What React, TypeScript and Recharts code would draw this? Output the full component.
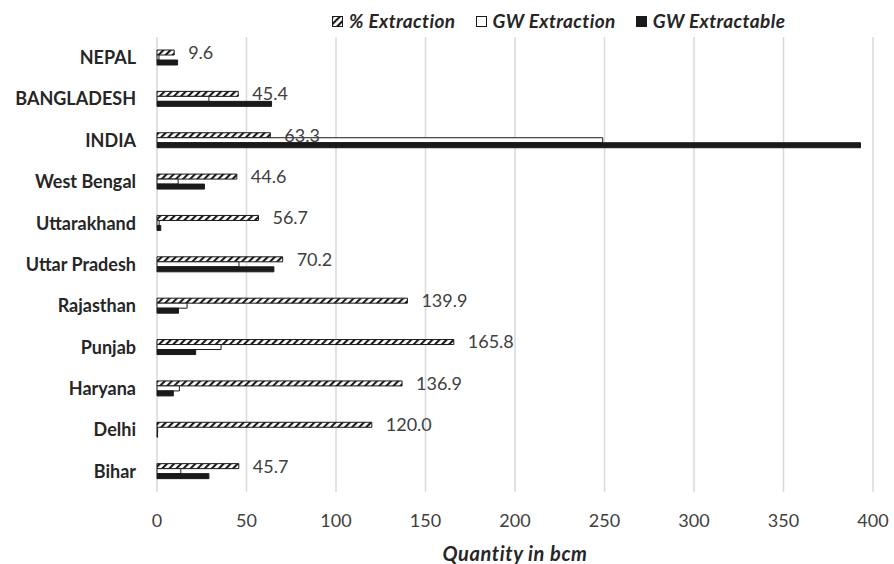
import React from "react";
import { BarChart, Bar, XAxis, YAxis, CartesianGrid, LabelList, Label } from "recharts";

const categories = ["NEPAL", "BANGLADESH", "INDIA", "West Bengal", "Uttarakhand", "Uttar Pradesh", "Rajasthan", "Punjab", "Haryana", "Delhi", "Bihar"];
const pctExtraction = [9.6, 45.4, 63.3, 44.6, 56.7, 70.2, 139.9, 165.8, 136.9, 120.0, 45.7];
const gwExtraction = [1.1, 29, 249, 11.8, 1.2, 45.8, 16.8, 35.8, 12.5, 0.36, 13.3];
const gwExtractable = [11.5, 64, 393, 26.5, 2.1, 65.3, 12, 21.6, 9.1, 0.3, 29];
const xTicks = [0, 50, 100, 150, 200, 250, 300, 350, 400];

const chartData = categories.map((name, i) => ({
  name,
  pct: pctExtraction[i],
  extraction: gwExtraction[i],
  extractable: gwExtractable[i],
}));

const FONT = "Lato, 'Open Sans', sans-serif";
const DARK = "#1a1a1a";

const legendItems = [
  { label: "% Extraction", fill: "url(#hatch)" },
  { label: "GW Extraction", fill: "#fff" },
  { label: "GW Extractable", fill: DARK },
];

// legend sits above the plot, outside recharts so it doesn't push the plot down
const ChartLegend = () => (
  <div
    style={{
      position: "absolute",
      left: 332,
      top: 11,
      display: "flex",
      gap: 20,
      fontFamily: FONT,
      fontWeight: 700,
      fontStyle: "italic",
      fontSize: 19,
      letterSpacing: 0.4,
      color: "#262626",
      lineHeight: "20px",
    }}
  >
    {legendItems.map((it) => (
      <div key={it.label} style={{ display: "flex", alignItems: "center", gap: 6 }}>
        <svg width={11} height={11}>
          <rect x={0.5} y={0.5} width={10} height={10} fill={it.fill} stroke={DARK} strokeWidth={1} />
        </svg>
        <span>{it.label}</span>
      </div>
    ))}
  </div>
);

const App: React.FC = () => {
  return (
    <div style={{ position: "absolute", left: 0, top: 0, width: 894, height: 564, background: "#fff" }}>
      <svg width={0} height={0} style={{ position: "absolute" }}>
        <defs>
          <pattern id="hatch" patternUnits="userSpaceOnUse" width={5} height={5} patternTransform="rotate(45)">
            <rect width={5} height={5} fill="#fff" />
            <line x1={1} y1={0} x2={1} y2={5} stroke={DARK} strokeWidth={2.2} />
          </pattern>
        </defs>
      </svg>
      <BarChart
        width={894}
        height={564}
        data={chartData}
        layout="vertical"
        barGap={0}
        margin={{ top: 37, right: 21, left: 0, bottom: 0 }}
      >
        <CartesianGrid horizontal={false} stroke="#d9d9d9" strokeWidth={1.5} />
        <XAxis
          type="number"
          domain={[0, 400]}
          ticks={xTicks}
          axisLine={false}
          tickLine={false}
          tickMargin={16}
          height={72}
          tick={{ fontSize: 18, fill: "#404040", fontFamily: FONT }}
        >
          <Label
            value="Quantity in bcm"
            position="insideBottom"
            offset={3}
            style={{ fontSize: 20, fontWeight: 700, fontStyle: "italic", letterSpacing: 0.6, fill: "#262626", fontFamily: FONT }}
          />
        </XAxis>
        <YAxis
          type="category"
          dataKey="name"
          width={157}
          axisLine={false}
          tickLine={false}
          tickSize={0}
          tickMargin={21}
          tick={{ fontSize: 18, fontWeight: 700, fill: "#262626", fontFamily: FONT }}
        />
        <Bar dataKey="pct" name="% Extraction" barSize={5} fill="url(#hatch)" stroke={DARK} strokeWidth={1} isAnimationActive={false}>
          <LabelList
            dataKey="pct"
            position="right"
            offset={14}
            formatter={(v: number) => v.toFixed(1)}
            style={{ fontSize: 18, fill: "#404040", fontFamily: FONT }}
          />
        </Bar>
        <Bar dataKey="extraction" name="GW Extraction" barSize={5} fill="#fff" stroke={DARK} strokeWidth={1} isAnimationActive={false} />
        <Bar dataKey="extractable" name="GW Extractable" barSize={5} fill={DARK} stroke={DARK} strokeWidth={1} isAnimationActive={false} />
      </BarChart>
      <ChartLegend />
    </div>
  );
};

export default App;
